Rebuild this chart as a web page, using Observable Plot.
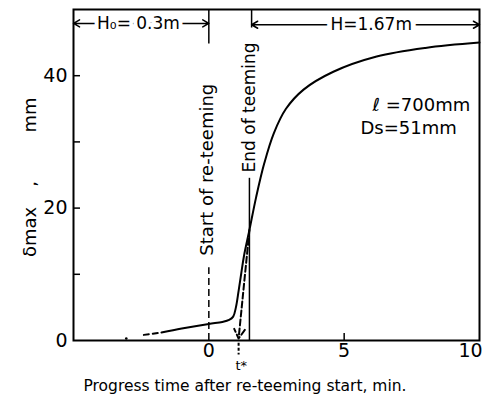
<!DOCTYPE html>
<html><head><meta charset="utf-8">
<script src="https://cdn.jsdelivr.net/npm/d3@7"></script>
<script src="https://cdn.jsdelivr.net/npm/@observablehq/plot@0.6"></script>
<style>body{margin:0;background:#fff}</style>
</head><body><div id="chart"></div>
<script>
// data
const solidT = [-1.75, -1, 0, 0.5, 0.75, 0.9, 1.0, 1.1, 1.2, 1.3, 1.5, 1.75, 2.05, 2.4, 2.85, 3.5, 4.6, 6.2, 8.0, 10];
const solidV = [1.2, 1.8, 2.5, 2.8, 3.1, 3.6, 5.0, 7.5, 10.2, 12.8, 16.7, 21.7, 26.8, 31.3, 35.0, 37.9, 40.6, 42.9, 44.2, 45];
const dashT = [-2.4, -1.75];
const dashV = [0.85, 1.2];
const dotT = [-3.05];
const dotV = [0.3];
const startT = 0;          // start of re-teeming
const endT = 1.5;          // end of teeming
const tStar = 1.1;         // t*
const xTickLabels = [0, 5];
const xLastLabel = [10];
const yTickLabels = [0, 20, 40];
const yMinorTicks = [10, 20, 30, 40];
const xMinorTicks = [5];
const H0label = "H\u2080= 0.3m";
const Hlabel = "H=1.67m";
const params = ["\u2113 =700mm", "Ds=51mm"];
const yTitleParts = ["\u03b4max", ",", "mm"];

const solid = solidT.map((t, i) => ({t, v: solidV[i]}));
const dashed = dashT.map((t, i) => ({t, v: dashV[i]}));
const dots = dotT.map((t, i) => ({t, v: dotV[i]}));

const font = "DejaVu Sans, Verdana, sans-serif";
const chart = Plot.plot({
  width: 488, height: 399,
  marginLeft: 73, marginRight: 9, marginTop: 9, marginBottom: 59,
  style: {fontFamily: font, fontSize: "15px", color: "#000", background: "#fff"},
  x: {domain: [-5, 10], label: null},
  y: {domain: [0, 50], label: null},
  marks: [
    Plot.frame({stroke: "#000", strokeWidth: 2}),
    // inward ticks
    Plot.axisY(yMinorTicks, {tickSize: 7, dx: 7, text: null, label: null, strokeWidth: 1.5}),
    Plot.axisY(yTickLabels, {tickSize: 0, tickPadding: 6, fontSize: 19, label: null, letterSpacing: 3}),
    Plot.axisX(xMinorTicks, {tickSize: 7, dy: -7, text: null, label: null, strokeWidth: 1.5}),
    Plot.axisX(xTickLabels, {tickSize: 0, tickPadding: 3, fontSize: 19, label: null}),
    Plot.axisX(xLastLabel, {tickSize: 0, tickPadding: 3, fontSize: 19, label: null, dx: -9}),
    // start of re-teeming line
    Plot.ruleX([startT], {y1: 0, y2: 11, strokeDasharray: "7,4", strokeWidth: 1.5}),
    Plot.ruleX([startT], {y1: 44.8, y2: 50, strokeWidth: 1.5}),
    Plot.text(["Start of re-teeming"], {x: startT, y: 25.8, dx: -2, rotate: -90, fontSize: 18, letterSpacing: 1.2}),
    // end of teeming line
    Plot.ruleX([endT], {y1: 0, y2: 24.5, strokeWidth: 1.5}),
    Plot.ruleX([endT + 0.08], {y1: 47.2, y2: 50, strokeWidth: 1.5}),
    Plot.text(["End of teeming"], {x: endT, y: 35.2, rotate: -90, fontSize: 17, letterSpacing: 0.3}),
    // curve
    Plot.line(solid, {x: "t", y: "v", curve: "catmull-rom", strokeWidth: 2}),
    Plot.line(dashed, {x: "t", y: "v", strokeWidth: 2, strokeDasharray: "5,4"}),
    Plot.dot(dots, {x: "t", y: "v", r: 1.3, fill: "#000", stroke: null}),
    // t* arrow
    Plot.arrow([{x1: endT, y1: 16.7, x2: tStar, y2: 0.3}], {x1: "x1", y1: "y1", x2: "x2", y2: "y2", strokeDasharray: "6,3", strokeWidth: 2, headLength: 8}),
    Plot.ruleX([tStar], {y1: -0.4, y2: -2.2, strokeDasharray: "3,2", strokeWidth: 2, clip: false}),
    Plot.text(["t*"], {x: tStar + 0.1, y: -3.9, fontSize: 13}),
    // H0 and H dimension arrows
    Plot.arrow([{x1: -2.6, x2: -5, y: 47.9}, {x1: -2.6, x2: 0, y: 47.9}], {x1: "x1", x2: "x2", y1: "y", y2: "y", strokeWidth: 1.5, headLength: 7}),
    Plot.text([H0label], {x: -2.6, y: 47.9, fontSize: 17, stroke: "#fff", strokeWidth: 8, fill: "#000", paintOrder: "stroke"}),
    Plot.arrow([{x1: 6.0, x2: endT + 0.08, y: 47.7}, {x1: 6.0, x2: 10, y: 47.7}], {x1: "x1", x2: "x2", y1: "y", y2: "y", strokeWidth: 1.5, headLength: 7}),
    Plot.text([Hlabel], {x: 6.0, y: 47.7, fontSize: 17, stroke: "#fff", strokeWidth: 10, fill: "#000", paintOrder: "stroke"}),
    // parameters
    Plot.text([params[0]], {x: 6.05, y: 35.5, textAnchor: "start", fontSize: 18}),
    Plot.text([params[1]], {x: 5.6, y: 32.1, textAnchor: "start", fontSize: 18})
  ]
});
const svg = d3.select(chart);
// axis titles as real text inside the svg
svg.append("text").attr("x", 245).attr("y", 391).attr("text-anchor", "middle")
  .attr("font-size", 15.5).attr("font-family", font)
  .text("Progress time after re-teeming start, min.");
const yTitleCenters = [232, 184, 115];
yTitleParts.forEach((s, i) => {
  svg.append("text").attr("transform", `translate(36,${yTitleCenters[i]}) rotate(-90)`)
    .attr("text-anchor", "middle").attr("font-size", 18).attr("font-family", font)
    .text(s);
});
document.getElementById("chart").appendChild(chart);
</script>
</body></html>
